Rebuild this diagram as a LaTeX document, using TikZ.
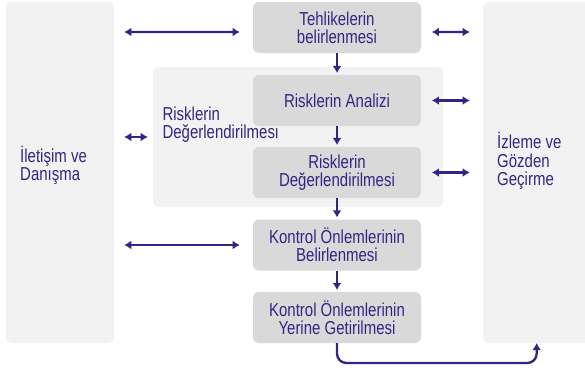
\documentclass[tikz,border=0pt]{standalone}
\usepackage{fontspec}
\setmainfont[FakeStretch=0.8]{Liberation Sans}
\usetikzlibrary{arrows.meta}

\definecolor{navy}{RGB}{50,38,132}
\definecolor{boxgray}{RGB}{217,217,217}
\definecolor{panelgray}{RGB}{242,242,242}

\begin{document}
\begin{tikzpicture}[
    panel/.style={fill=panelgray, rounded corners=5pt, inner sep=0pt},
    stepbox/.style={fill=boxgray, rounded corners=5pt, minimum width=5.04cm,
        minimum height=1.53cm, align=center, text=navy, inner sep=0pt},
    txt/.style={text=navy, align=left, inner sep=0pt, anchor=west},
    link/.style={navy, line width=2pt, {Latex[length=6pt,width=7.5pt]}-{Latex[length=6pt,width=7.5pt]}},
    flow/.style={navy, line width=2pt, -{Latex[length=6pt,width=7.5pt]}},
    font=\fontsize{16}{15.5}\selectfont
]
        \clip (0,0) rectangle (17.55,11.1);

        % the big panels
        \node[panel, minimum width=3.24cm, minimum height=10.23cm] (comm) at (1.8,5.925) {};
        \node[panel, minimum width=3.3cm, minimum height=10.23cm] (review) at (16.14,5.925) {};
        \node[panel, minimum width=8.7cm, minimum height=4.2cm] (assess) at (8.94,6.99) {};

        % the texts of the panels
        \node[txt] (commtxt) at (0.6,6.15) {İletişim ve\\Danışma};
        \node[txt] (assesstxt) at (4.87,7.35) {Risklerin\\Değerlendirilmesi};
        \node[txt] (reviewtxt) at (14.91,6.27) {İzleme ve\\Gözden\\Geçirme};

        % the steps
        \node[stepbox] (b1) at (10.11,10.275) {Tehlikelerin\\belirlenmesi};
        \node[stepbox] (b2) at (10.11,8.085) {Risklerin Analizi};
        \node[stepbox] (b3) at (10.11,5.925) {Risklerin\\Değerlendirilmesi};
        \node[stepbox] (b4) at (10.11,3.75) {Kontrol Önlemlerinin\\Belirlenmesi};
        \node[stepbox] (b5) at (10.11,1.575) {Kontrol Önlemlerinin\\Yerine Getirilmesi};

        % the flow between the steps
        \draw[flow, shorten >=1.5pt] (b1) -- (b2);
        \draw[flow, shorten >=1.5pt] (b2) -- (b3);
        \draw[flow, shorten >=1.5pt] (b3) -- (b4);
        \draw[flow, shorten >=1.5pt] (b4) -- (b5);

        % back to the review panel
        \coordinate (loop) at (16.1,0.21);
        \coordinate (revin) at (16.1,0.81);
        \draw[flow, rounded corners=8pt] (b5.south) |- (loop) -- (revin);

        % arrows to communication
        \draw[link, shorten <=0.3cm, shorten >=0.39cm] (comm.east |- 0,10.14) -- ([yshift=-0.135cm]b1.west);
        \draw[link, shorten <=0.3cm, shorten >=0.15cm] (comm.east |- assess.west) -- (assess.west);
        \draw[link, shorten <=0.3cm, shorten >=0.39cm] (comm.east |- b4.west) -- (b4.west);

        % arrows to review
        \draw[link, shorten <=0.32cm, shorten >=0.39cm] ([yshift=-0.135cm]b1.east) -- (review.west |- 0,10.14);
        \draw[link, shorten <=0.32cm, shorten >=0.39cm] (b2.east) -- (review.west |- b2.east);
        \draw[link, shorten <=0.32cm, shorten >=0.39cm] (b3.east) -- (review.west |- b3.east);

\end{tikzpicture}
\end{document}
